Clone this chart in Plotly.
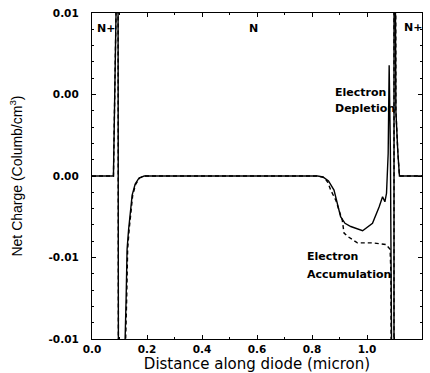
import plotly.graph_objects as go

# ---- data (micron, Columb/cm^3) ----
solid_x = [0.0, 0.078, 0.0875, 0.090, 0.0935, 0.0948, 0.0952, 0.097, 0.115, 0.1195,
           0.1204, 0.124, 0.1276, 0.133, 0.1386, 0.146, 0.157, 0.171, 0.190,
           0.82, 0.84, 0.86, 0.880, 0.893, 0.904, 0.920, 0.941, 0.984, 1.020, 1.044,
           1.0566, 1.065, 1.071, 1.077, 1.0806, 1.085, 1.0893, 1.091, 1.098, 1.0985,
           1.103, 1.1045, 1.105, 1.112, 1.118, 1.2]
solid_y = [0.0, 0.0, 0.0101, 0.02, 0.03, 0.0105, -0.0105, -0.03, -0.03, -0.012,
           -0.0100, -0.0076, -0.0045, -0.0033, -0.0022, -0.00117, -0.0005, -0.00012, 0.0,
           0.0, -0.00005, -0.0003, -0.00086, -0.0017, -0.0025, -0.0029, -0.0031, -0.00336,
           -0.0029, -0.0019, -0.00127, -0.00158, -0.00106, 0.0014, 0.0068, 0.0016, -0.0105,
           -0.03, -0.03, 0.03, 0.03, 0.0105, 0.004, 0.0015, 0.0, 0.0]

dash_x = [0.0, 0.078, 0.0875, 0.090, 0.0935, 0.0948, 0.0952, 0.097, 0.115, 0.1215,
          0.1224, 0.126, 0.1296, 0.135, 0.1406, 0.148, 0.159, 0.173, 0.192,
          0.82, 0.845, 0.858, 0.868, 0.887, 0.904, 0.910, 0.9165, 0.929, 0.965, 1.02,
          1.0686, 1.084, 1.087, 1.089, 1.091, 1.098, 1.0985, 1.103, 1.1045, 1.105,
          1.112, 1.118, 1.2]
dash_y = [0.0, 0.0, 0.0101, 0.02, 0.03, 0.0105, -0.0105, -0.03, -0.03, -0.012,
          -0.0100, -0.0076, -0.0045, -0.0033, -0.0022, -0.00117, -0.0005, -0.00012, 0.0,
          0.0, -0.0001, -0.0004, -0.00086, -0.0015, -0.0024, -0.0027, -0.0035, -0.0037,
          -0.0041, -0.0041, -0.0042, -0.0045, -0.006, -0.0105, -0.03, -0.03, 0.03, 0.03,
          0.0105, 0.004, 0.0015, 0.0, 0.0]

y_tickvals = [0.01, 0.005, 0.0, -0.005, -0.01]
y_ticktext = ["0.01", "0.00", "0.00", "-0.01", "-0.01"]
x_tickvals = [0.0, 0.2, 0.4, 0.6, 0.8, 1.0, 1.2]
x_ticktext = ["0.0", "0.2", "0.4", "0.6", "0.8", "1.0", "1.2"]

labels = [
    ("N+", 0.051, 0.00908, "center"),
    ("N", 0.587, 0.00902, "center"),
    ("N+", 1.167, 0.00914, "center"),
    ("Electron", 0.875, 0.00515, "left"),
    ("Depletion", 0.875, 0.00417, "left"),
    ("Electron", 0.774, -0.00495, "left"),
    ("Accumulation", 0.774, -0.00607, "left"),
]

fig = go.Figure()
fig.add_trace(go.Scatter(x=solid_x, y=solid_y, mode="lines",
                         line=dict(color="black", width=1.4), showlegend=False))
fig.add_trace(go.Scatter(x=dash_x, y=dash_y, mode="lines",
                         line=dict(color="black", width=1.4, dash="4px,3px"), showlegend=False))

for text, x, y, anchor in labels:
    fig.add_annotation(x=x, y=y, text=text, showarrow=False, xanchor=anchor, yanchor="middle",
                       font=dict(family="DejaVu Sans", size=11, color="black", weight="bold"))

tickfont = dict(family="DejaVu Sans", size=10.5, color="black", weight="bold")
fig.update_xaxes(range=[0, 1.2], tickvals=x_tickvals, ticktext=x_ticktext, automargin=False,
                 showline=True, linecolor="black", linewidth=1.3, mirror="ticks",
                 ticks="inside", ticklen=4, tickcolor="black", showgrid=False, zeroline=False,
                 tickfont=tickfont, ticklabelstandoff=0,
                 minor=dict(dtick=0.1, ticks="inside", ticklen=2, tickcolor="black"),
                 title=dict(text="Distance along diode (micron)", standoff=6,
                            font=dict(family="DejaVu Sans", size=15, color="black")))
fig.update_yaxes(range=[-0.01, 0.01], tickvals=y_tickvals, ticktext=y_ticktext, automargin=False,
                 showline=True, linecolor="black", linewidth=1.3, mirror="ticks",
                 ticks="inside", ticklen=4, tickcolor="black", showgrid=False, zeroline=False,
                 tickfont=tickfont, ticklabelstandoff=10,
                 minor=dict(dtick=0.001, ticks="inside", ticklen=2, tickcolor="black"),
                 title=dict(text="Net Charge (Columb/cm<sup>3</sup>)", standoff=22,
                            font=dict(family="Liberation Sans", size=14, color="black")))

fig.update_layout(width=430, height=373, margin=dict(l=92, r=8, t=13, b=34),
                  plot_bgcolor="white", paper_bgcolor="white")
fig.write_html("out.html")
